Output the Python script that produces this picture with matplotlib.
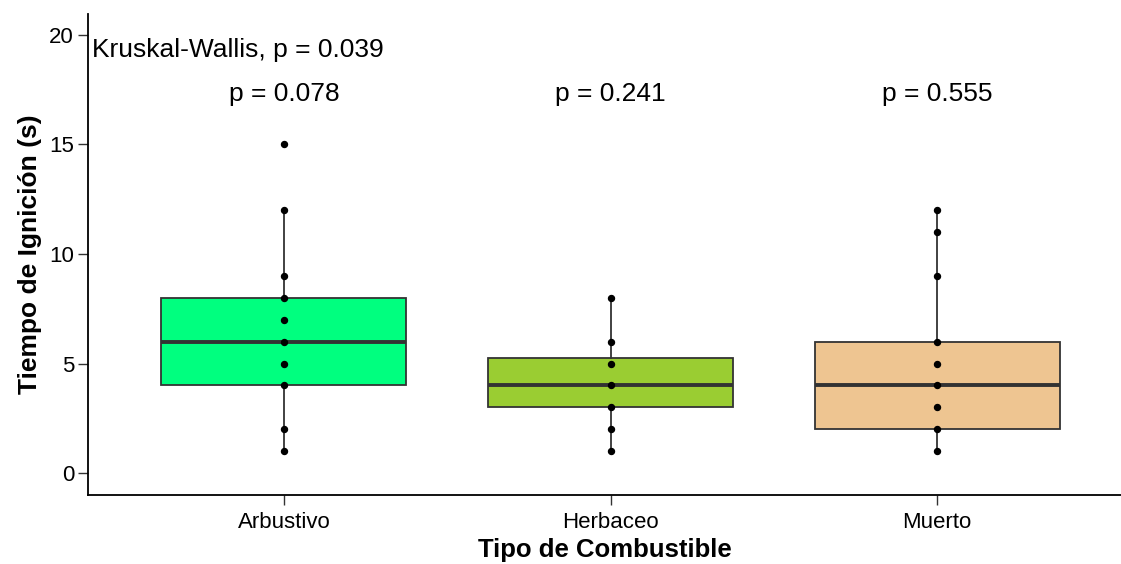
import matplotlib
matplotlib.use("Agg")
import matplotlib.pyplot as plt

# Fuel types and box statistics for ignition time (s)
categories = ["Arbustivo", "Herbaceo", "Muerto"]
q1 = [4, 3, 2]
median = [6, 4, 4]
q3 = [8, 5.25, 6]
whisker_low = [1, 1, 1]
whisker_high = [12, 8, 12]

# Observed (distinct) values per fuel type
points_arbustivo = [1, 2, 4, 5, 6, 7, 8, 9, 12, 15]
points_herbaceo = [1, 2, 3, 4, 5, 6, 8]
points_muerto = [1, 2, 3, 4, 5, 6, 9, 11, 12]

fill_colors = ["#00FF7F", "#9ACD32", "#EEC591"]

global_test = "Kruskal-Wallis, p = 0.039"
pair_labels = ["p = 0.078", "p = 0.241", "p = 0.555"]

plt.rcParams["font.family"] = ["Liberation Sans", "DejaVu Sans"]

fig = plt.figure(figsize=(11.21, 5.64), dpi=100)
ax = fig.add_axes([0.0785, 0.1223, 1 - 0.0785, 0.975 - 0.1223])

positions = list(range(1, len(categories) + 1))
stats = []
for i, name in enumerate(categories):
    stats.append({
        "label": name, "q1": q1[i], "med": median[i], "q3": q3[i],
        "whislo": whisker_low[i], "whishi": whisker_high[i], "fliers": [],
    })

edge = "#333333"
bp = ax.bxp(
    stats, positions=positions, widths=0.75, patch_artist=True,
    showcaps=False, showfliers=False,
    boxprops=dict(edgecolor=edge, linewidth=1.3),
    medianprops=dict(color=edge, linewidth=2.8, solid_capstyle="butt"),
    whiskerprops=dict(color=edge, linewidth=1.3),
)
for patch, col in zip(bp["boxes"], fill_colors):
    patch.set_facecolor(col)

for pos, pts in zip(positions, [points_arbustivo, points_herbaceo, points_muerto]):
    ax.plot([pos] * len(pts), pts, "o", color="black", markersize=4.3, zorder=5)

ax.set_xlim(0.4, 3.563)
ax.set_ylim(-1.0, 20.95)
ax.set_yticks([0, 5, 10, 15, 20])
ax.set_xticks(positions)
ax.set_xticklabels(categories)

for side in ["top", "right"]:
    ax.spines[side].set_visible(False)
for side in ["left", "bottom"]:
    ax.spines[side].set_linewidth(1.3)
    ax.spines[side].set_color("black")
ax.tick_params(axis="both", length=7, width=1.0, color="#333333",
               labelsize=16, labelcolor="black")
ax.tick_params(axis="x", pad=5)
ax.tick_params(axis="y", pad=3)

ax.set_xlabel("Tipo de Combustible", fontsize=18.5, fontweight="bold", labelpad=4)
ax.set_ylabel("Tiempo de Ignición (s)", fontsize=19, fontweight="bold", labelpad=5.5)

ax.text(0.412, 19.0, global_test, fontsize=19, ha="left", va="baseline")
for pos, lab in zip(positions, pair_labels):
    ax.text(pos, 17.0, lab, fontsize=19, ha="center", va="baseline")

fig.savefig("out.png", dpi=100)
